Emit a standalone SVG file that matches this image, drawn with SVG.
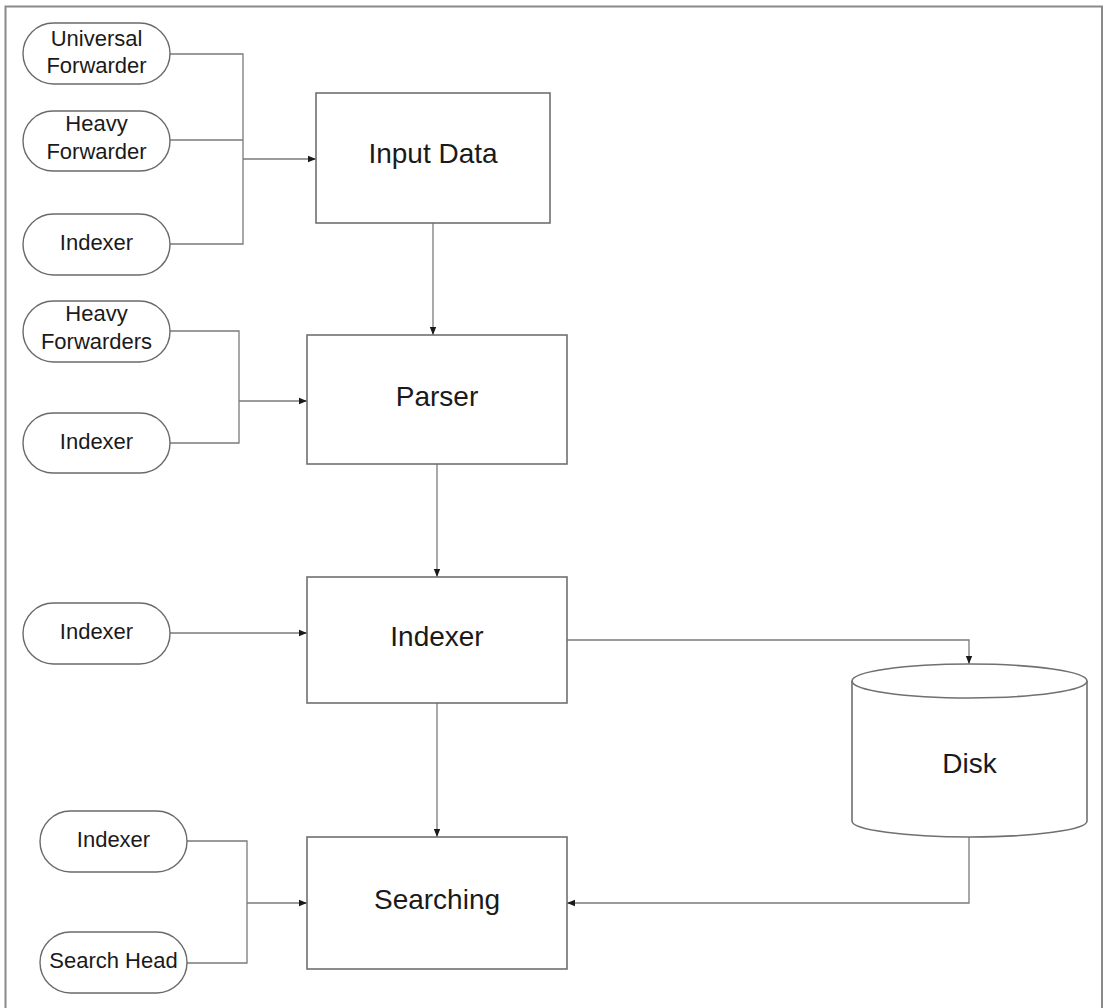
<svg xmlns="http://www.w3.org/2000/svg" width="1107" height="1008" viewBox="0 0 1107 1008">
<style>
.frame{fill:#fff;stroke:#8a8a8a;stroke-width:2}
.box{fill:#fff;stroke:#707070;stroke-width:1.6}
.pill{fill:#fff;stroke:#6a6a6a;stroke-width:1.4}
.conn{fill:none;stroke:#7a7a7a;stroke-width:1.3}
.pt{font-family:"Liberation Sans",Arial,sans-serif;font-size:22px;fill:#1a1a1a;text-anchor:middle}
.bt{font-family:"Liberation Sans",Arial,sans-serif;font-size:28px;fill:#1a1a1a;text-anchor:middle}
</style>
<defs>
<marker id="arr" viewBox="0 0 8 8" refX="8" refY="4" markerWidth="8" markerHeight="8" markerUnits="userSpaceOnUse" orient="auto">
<path d="M0,0.8 L8,4 L0,7.2 Z" fill="#1a1a1a"/>
</marker>
</defs>
<rect class="frame" x="5.5" y="6.5" width="1096.5" height="1010"/>

<g id="connectors">
<path class="conn" d="M170,54 H243 V244 H170"/>
<path class="conn" d="M170,140 H243"/>
<path class="conn" d="M243,159 H316" marker-end="url(#arr)"/>
<path class="conn" d="M170,331 H239 V443 H170"/>
<path class="conn" d="M239,401 H307" marker-end="url(#arr)"/>
<path class="conn" d="M170,633 H307" marker-end="url(#arr)"/>
<path class="conn" d="M187,841 H247 V963 H187"/>
<path class="conn" d="M247,903 H307" marker-end="url(#arr)"/>
<path class="conn" d="M433,223 V335" marker-end="url(#arr)"/>
<path class="conn" d="M437,464 V577" marker-end="url(#arr)"/>
<path class="conn" d="M437,703 V837" marker-end="url(#arr)"/>
<path class="conn" d="M567,640 H969 V664" marker-end="url(#arr)"/>
<path class="conn" d="M969,837 V903 H567" marker-end="url(#arr)"/>
</g>

<g id="universal-forwarder">
<rect class="pill" x="23" y="23" width="147" height="61" rx="30.5"/>
<text class="pt" x="96.5" y="46">Universal</text>
<text class="pt" x="96.5" y="73">Forwarder</text>
</g>
<g id="heavy-forwarder">
<rect class="pill" x="23" y="111" width="147" height="60" rx="30"/>
<text class="pt" x="96.5" y="131">Heavy</text>
<text class="pt" x="96.5" y="159">Forwarder</text>
</g>
<g id="indexer-1">
<rect class="pill" x="23" y="214" width="147" height="61" rx="30.5"/>
<text class="pt" x="96.5" y="250">Indexer</text>
</g>
<g id="heavy-forwarders">
<rect class="pill" x="23" y="301" width="147" height="61" rx="30.5"/>
<text class="pt" x="96.5" y="321">Heavy</text>
<text class="pt" x="96.5" y="349">Forwarders</text>
</g>
<g id="indexer-2">
<rect class="pill" x="23" y="413" width="147" height="60" rx="30"/>
<text class="pt" x="96.5" y="449">Indexer</text>
</g>
<g id="indexer-3">
<rect class="pill" x="23" y="603" width="147" height="61" rx="30.5"/>
<text class="pt" x="96.5" y="639">Indexer</text>
</g>
<g id="indexer-4">
<rect class="pill" x="40" y="811" width="147" height="61" rx="30.5"/>
<text class="pt" x="113.5" y="847">Indexer</text>
</g>
<g id="search-head">
<rect class="pill" x="40" y="932" width="147" height="61" rx="30.5"/>
<text class="pt" x="113.5" y="968">Search Head</text>
</g>

<g id="input-data">
<rect class="box" x="316" y="93" width="234" height="130"/>
<text class="bt" x="433" y="163">Input Data</text>
</g>
<g id="parser">
<rect class="box" x="307" y="335" width="260" height="129"/>
<text class="bt" x="437" y="406">Parser</text>
</g>
<g id="indexer">
<rect class="box" x="307" y="577" width="260" height="126"/>
<text class="bt" x="437" y="646">Indexer</text>
</g>
<g id="searching">
<rect class="box" x="307" y="837" width="260" height="132"/>
<text class="bt" x="437" y="909">Searching</text>
</g>
<g id="disk">
<path class="box" d="M852,681 V821 A117.5,16 0 0 0 1087,821 V681"/>
<ellipse class="box" cx="969.5" cy="681" rx="117.5" ry="17"/>
<text class="bt" x="969.5" y="773">Disk</text>
</g>
</svg>
